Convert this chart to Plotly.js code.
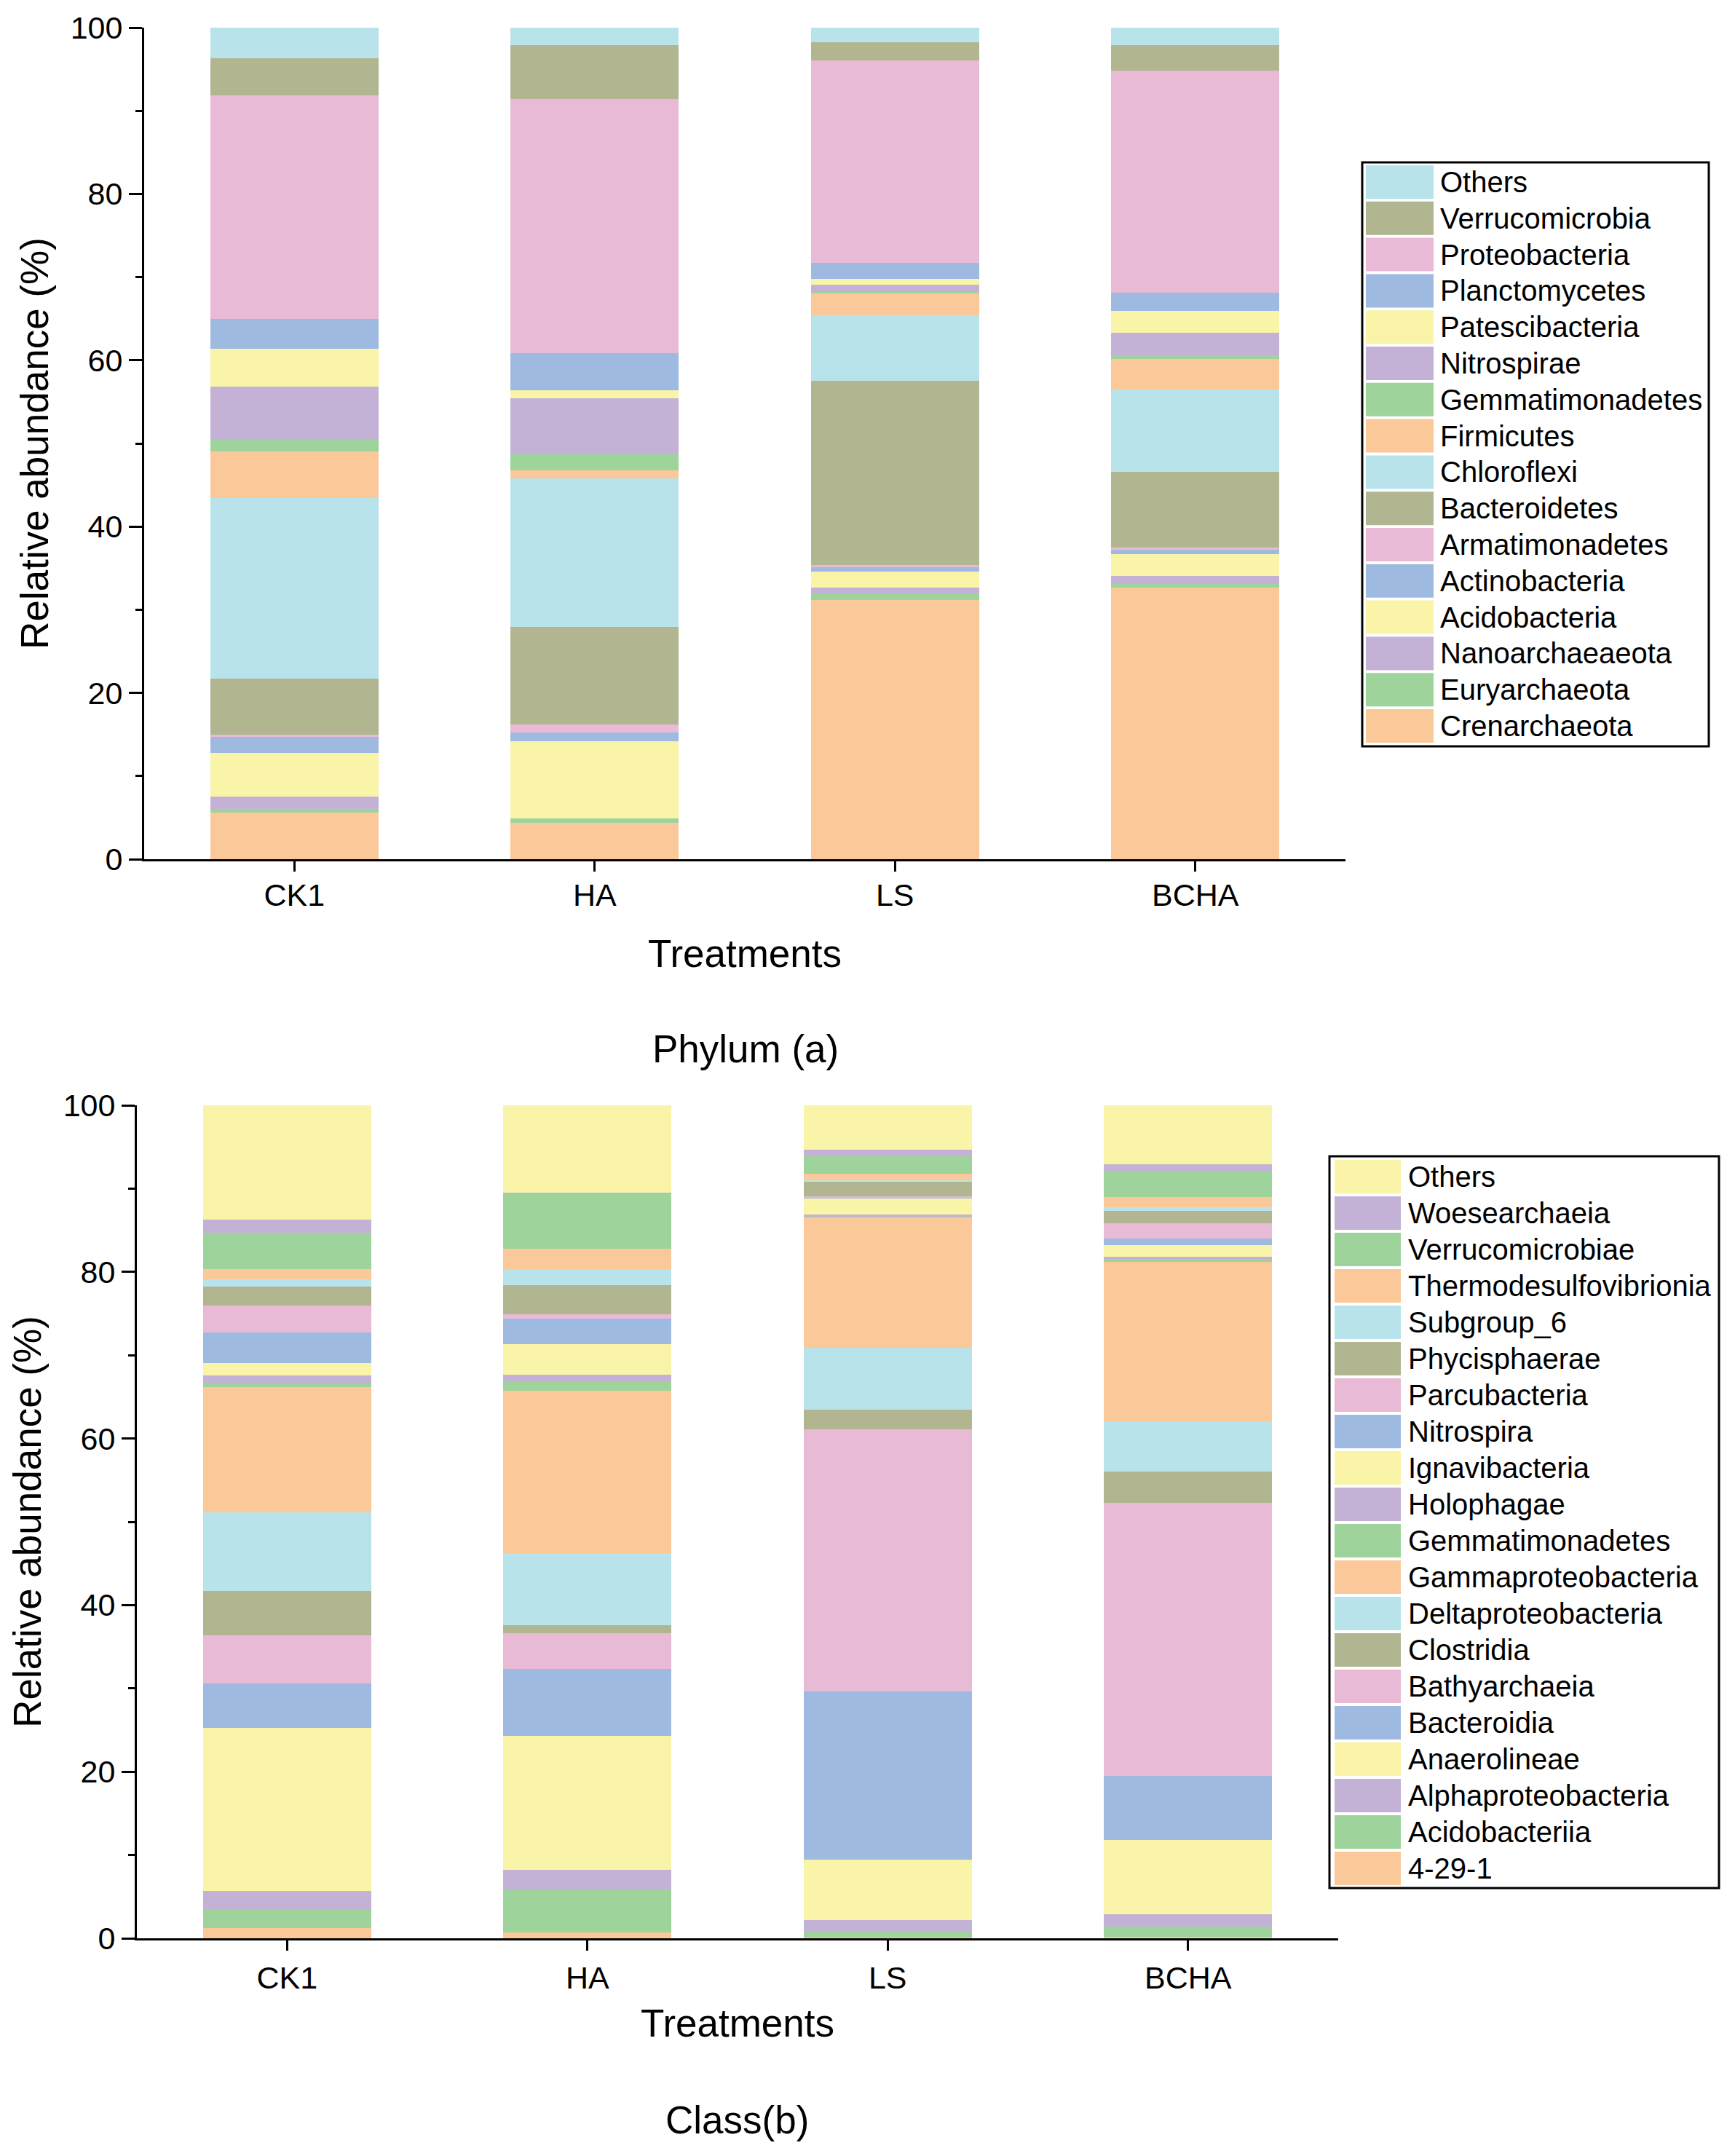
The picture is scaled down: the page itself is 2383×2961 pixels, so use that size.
<!DOCTYPE html>
<html>
<head>
<meta charset="utf-8">
<script src="https://cdn.plot.ly/plotly-3.0.1.min.js"></script>
<style>html,body{margin:0;padding:0;background:#fff;}#chart{width:2383px;height:2961px;}</style>
</head>
<body>
<div id="chart"></div>
<script>
// ---------- data ----------
const treatments = ['CK1', 'HA', 'LS', 'BCHA'];

const phylumNames = ['Crenarchaeota', 'Euryarchaeota', 'Nanoarchaeaeota', 'Acidobacteria', 'Actinobacteria',
  'Armatimonadetes', 'Bacteroidetes', 'Chloroflexi', 'Firmicutes', 'Gemmatimonadetes', 'Nitrospirae',
  'Patescibacteria', 'Planctomycetes', 'Proteobacteria', 'Verrucomicrobia', 'Others'];
const phylumCK1  = [5.6, 0.47, 1.48, 5.25, 1.9, 0.3, 6.7, 21.7, 5.6, 1.4, 6.4, 4.6, 3.6, 26.9, 4.4, 3.7];
const phylumHA   = [4.4, 0.5, 0.0, 9.3, 1.0, 1.0, 11.7, 17.9, 1.0, 1.9, 6.7, 1.0, 4.5, 30.5, 6.5, 2.1];
const phylumLS   = [31.2, 0.8, 0.7, 1.9, 0.5, 0.25, 22.2, 7.9, 2.6, 0.2, 0.85, 0.7, 1.95, 24.3, 2.2, 1.75];
const phylumBCHA = [32.7, 0.5, 0.9, 2.6, 0.5, 0.3, 9.1, 9.9, 3.7, 0.4, 2.7, 2.6, 2.2, 26.7, 3.1, 2.1];

const classNames = ['4-29-1', 'Acidobacteriia', 'Alphaproteobacteria', 'Anaerolineae', 'Bacteroidia',
  'Bathyarchaeia', 'Clostridia', 'Deltaproteobacteria', 'Gammaproteobacteria', 'Gemmatimonadetes',
  'Holophagae', 'Ignavibacteria', 'Nitrospira', 'Parcubacteria', 'Phycisphaerae', 'Subgroup_6',
  'Thermodesulfovibrionia', 'Verrucomicrobiae', 'Woesearchaeia', 'Others'];
const classCK1  = [1.2, 2.2, 2.3, 19.6, 5.3, 5.8, 5.3, 9.4, 15.1, 0.5, 0.9, 1.5, 3.6, 3.3, 2.2, 0.9, 1.2, 4.4, 1.6, 13.7];
const classHA   = [0.7, 5.2, 2.3, 16.1, 8.0, 4.3, 1.0, 8.6, 19.5, 1.2, 0.8, 3.6, 3.1, 0.5, 3.5, 1.9, 2.5, 6.5, 0.2, 10.5];
const classLS   = [0.05, 0.85, 1.3, 7.2, 20.2, 31.5, 2.4, 7.4, 15.6, 0.15, 0.2, 2.0, 0.05, 0.2, 1.7, 0.2, 0.8, 2.1, 0.8, 5.3];
const classBCHA = [0.2, 1.2, 1.5, 8.9, 7.7, 32.8, 3.7, 6.1, 19.1, 0.3, 0.3, 1.4, 0.8, 1.8, 1.5, 0.5, 1.2, 3.1, 0.8, 7.1];

const palette = ['#FBC999', '#9FD39C', '#C3B2D6', '#F9F4A8', '#9FBAE0', '#E8BAD6', '#B2B690', '#B8E3EB'];

const yTickVals = [0, 20, 40, 60, 80, 100];
const yMinorVals = [10, 30, 50, 70, 90];

// ---------- geometry helpers (layout only) ----------
const W = 2383, H = 2961;
const FONT = '"Liberation Sans", Arial, sans-serif';
const px = x => x / W;
const py = y => 1 - y / H;

const traces = [];
function addBars(names, perTreatment, xa, ya) {
  names.forEach((name, i) => {
    traces.push({
      type: 'bar',
      name: name,
      x: treatments,
      y: perTreatment.map(arr => arr[i]),
      xaxis: xa, yaxis: ya,
      width: 0.56,
      marker: { color: palette[i % palette.length], line: { width: 0 } },
      showlegend: false,
      hoverinfo: 'x+y+name'
    });
  });
}
addBars(phylumNames, [phylumCK1, phylumHA, phylumLS, phylumBCHA], 'x', 'y');
addBars(classNames, [classCK1, classHA, classLS, classBCHA], 'x2', 'y2');

function xAxis(domain, anchor, title, standoff, labelShift) {
  return {
    domain: domain, anchor: anchor, type: 'category', range: [-0.5, 3.5],
    showline: true, linewidth: 3, linecolor: '#000', mirror: false,
    ticks: 'outside', ticklen: 14, tickwidth: 3, tickcolor: '#000',
    ticklabelstandoff: labelShift,
    tickfont: { family: FONT, size: 43, color: '#000' },
    showgrid: false, zeroline: false, automargin: false,
    title: { text: title, font: { family: FONT, size: 53, color: '#000' }, standoff: standoff }
  };
}
function xMinor(over, anchor) {
  return {
    overlaying: over, anchor: anchor, type: 'linear', range: [-0.5, 3.5],
    tickmode: 'array', tickvals: [-0.5, 0.5, 1.5, 2.5, 3.5],
    ticks: 'outside', ticklen: 7, tickwidth: 3, tickcolor: '#000',
    showticklabels: false, showline: false, showgrid: false, zeroline: false, automargin: false
  };
}
function yAxis(domain, anchor) {
  return {
    domain: domain, anchor: anchor, range: [0, 100],
    tickmode: 'array', tickvals: yTickVals, ticktext: yTickVals.map(String),
    showline: true, linewidth: 3, linecolor: '#000',
    ticks: 'outside', ticklen: 18, tickwidth: 3, tickcolor: '#000',
    minor: { tickmode: 'array', tickvals: yMinorVals, ticks: 'outside', ticklen: 9, tickwidth: 3, tickcolor: '#000', showgrid: false },
    tickfont: { family: FONT, size: 43, color: '#000' },
    showgrid: false, zeroline: false, automargin: false,
    title: { text: 'Relative abundance (%)', font: { family: FONT, size: 53, color: '#000' }, standoff: 14 }
  };
}

// ---------- legends (drawn from the names/palette arrays) ----------
const shapes = [];
const annotations = [];
function legend(names, box, firstCenter, pitch, sw0, sw1, swH, textX) {
  shapes.push({ type: 'rect', xref: 'paper', yref: 'paper',
    x0: px(box[0]), x1: px(box[1]), y0: py(box[2]), y1: py(box[3]),
    line: { color: '#000', width: 3 }, fillcolor: 'rgba(0,0,0,0)' });
  const n = names.length;
  for (let k = 0; k < n; k++) {
    const idx = n - 1 - k; // top entry is last series
    const cy = firstCenter + k * pitch;
    shapes.push({ type: 'rect', xref: 'paper', yref: 'paper',
      x0: px(sw0), x1: px(sw1), y0: py(cy - swH / 2), y1: py(cy + swH / 2),
      line: { width: 0 }, fillcolor: palette[idx % palette.length] });
    annotations.push({ xref: 'paper', yref: 'paper', x: px(textX), y: py(cy),
      xanchor: 'left', yanchor: 'middle', showarrow: false, text: names[idx],
      font: { family: FONT, size: 40, color: '#000' } });
  }
}
legend(phylumNames, [1871, 2347, 223, 1025], 250, 49.8, 1876, 1969, 46, 1976);
legend(classNames, [1826, 2361, 1588, 2593], 1616, 50, 1833, 1924, 46, 1932);

annotations.push({ xref: 'paper', yref: 'paper', x: px(1024), y: py(1440), xanchor: 'center', yanchor: 'middle',
  showarrow: false, text: 'Phylum (a)', font: { family: FONT, size: 53, color: '#000' } });
annotations.push({ xref: 'paper', yref: 'paper', x: px(1012), y: py(2911), xanchor: 'center', yanchor: 'middle',
  showarrow: false, text: 'Class(b)', font: { family: FONT, size: 53, color: '#000' } });

const layout = {
  width: W, height: H,
  margin: { l: 0, r: 0, t: 0, b: 0, pad: 0 },
  paper_bgcolor: '#fff', plot_bgcolor: '#fff',
  barmode: 'stack', bargap: 0.44,
  showlegend: false,
  font: { family: FONT, color: '#000' },
  xaxis: xAxis([px(198), px(1848)], 'y', 'Treatments', 40, -5),
  yaxis: yAxis([py(1180), py(38)], 'x'),
  xaxis2: xAxis([px(188), px(1838)], 'y2', 'Treatments', 22, 0),
  yaxis2: yAxis([py(2662), py(1518)], 'x2'),
  xaxis3: xMinor('x', 'y'),
  xaxis4: xMinor('x2', 'y2'),
  shapes: shapes,
  annotations: annotations
};

Plotly.newPlot('chart', traces, layout, { staticPlot: true, displayModeBar: false });
</script>
</body>
</html>
